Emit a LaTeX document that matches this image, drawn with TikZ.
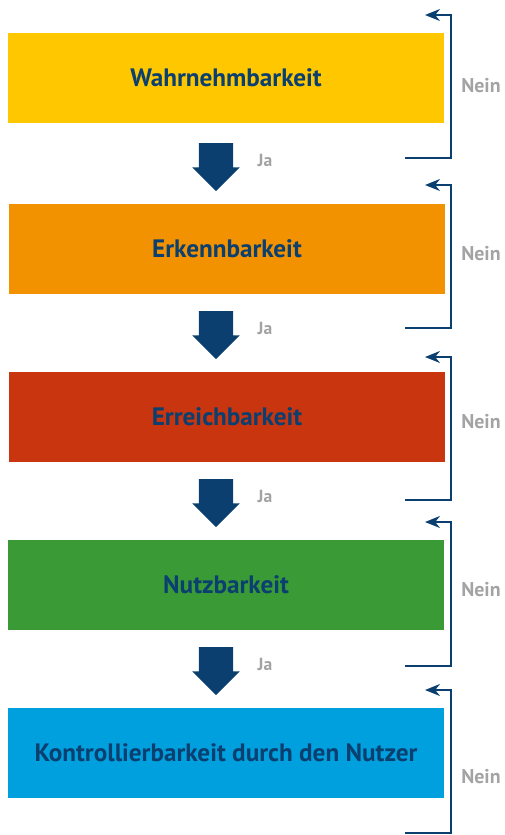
\documentclass[tikz,border=0pt]{standalone}
\usepackage{fontspec}
\setmainfont{PT Sans}
\usetikzlibrary{arrows.meta,shapes.arrows}

\definecolor{navy}{HTML}{0B3F6F}
\definecolor{labelgray}{HTML}{A3A3A3}
\definecolor{cyellow}{HTML}{FFC700}
\definecolor{corange}{HTML}{F29200}
\definecolor{cred}{HTML}{C9350F}
\definecolor{cgreen}{HTML}{3A9B36}
\definecolor{cblue}{HTML}{00A0DF}

\tikzset{
  stage/.style={rectangle,minimum width=13.05cm,minimum height=2.7cm,
    inner sep=0pt,text=navy,font=\fontsize{21.5}{25}\selectfont\bfseries},
  down/.style={single arrow,fill=navy,draw=none,shape border rotate=270,
    minimum height=1.44cm,minimum width=1.41cm,single arrow head extend=0.2cm,
    single arrow tip angle=90,inner xsep=0.51cm,inner ysep=0pt,anchor=tail},
  yes/.style={text=labelgray,font=\fontsize{15}{17}\selectfont\bfseries},
  no/.style={text=labelgray,font=\fontsize{17}{19}\selectfont\bfseries},
  back/.style={navy,line width=1.6pt,-{Stealth[length=0.45cm,width=0.36cm]}}
}

\begin{document}
\begin{tikzpicture}[x=0.03cm,y=-0.03cm]

  \useasboundingbox (0,0) rectangle (505,835);

  \node[stage,fill=cyellow] at (226,78) (S1) {Wahrnehmbarkeit};
  \node[stage,fill=corange] at (227,248.5) (S2) {Erkennbarkeit};
  \node[stage,fill=cred] at (227,417) (S3) {Erreichbarkeit};
  \node[stage,fill=cgreen] at (226,585) (S4) {Nutzbarkeit};
  \node[stage,fill=cblue] at (226,753) (S5) {Kontrollierbarkeit durch den Nutzer};

  \node[down] at (216,143) (D1) {};
  \node[down] at (216,311) (D2) {};
  \node[down] at (216,479) (D3) {};
  \node[down] at (216,647) (D4) {};

  \node[yes] at (265,160) (J1) {Ja};
  \node[yes] at (265,328) (J2) {Ja};
  \node[yes] at (265,496) (J3) {Ja};
  \node[yes] at (265,664) (J4) {Ja};

  \coordinate (F1) at (405,158);
  \coordinate (T1) at (425,15);
  \coordinate (F2) at (405,328);
  \coordinate (T2) at (425,185);
  \coordinate (F3) at (405,500);
  \coordinate (T3) at (425,357);
  \coordinate (F4) at (405,666);
  \coordinate (T4) at (425,522);
  \coordinate (F5) at (405,833);
  \coordinate (T5) at (425,690);

  \draw[back] (F1) -- (451,158) |- (T1);
  \draw[back] (F2) -- (451,328) |- (T2);
  \draw[back] (F3) -- (451,500) |- (T3);
  \draw[back] (F4) -- (451,666) |- (T4);
  \draw[back] (F5) -- (451,833) |- (T5);

  \node[no] at (481,86) (N1) {Nein};
  \node[no] at (481,254) (N2) {Nein};
  \node[no] at (481,422) (N3) {Nein};
  \node[no] at (481,590) (N4) {Nein};
  \node[no] at (481,777) (N5) {Nein};

\end{tikzpicture}
\end{document}
